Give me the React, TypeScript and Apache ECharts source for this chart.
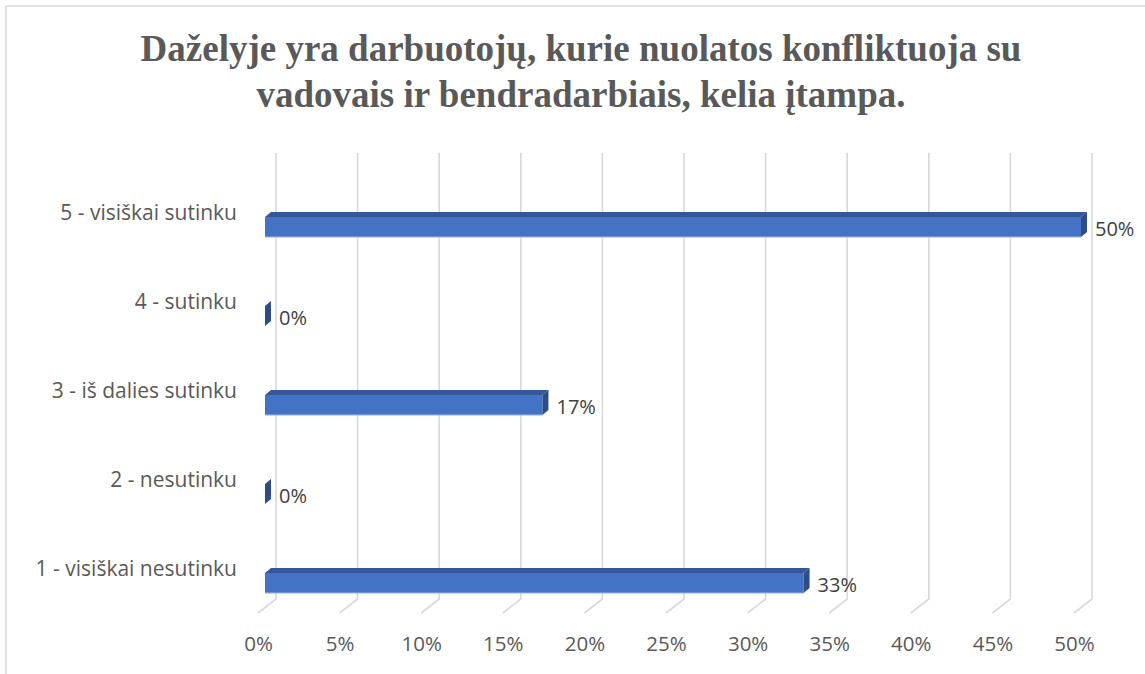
import React, { useEffect, useRef } from 'react';
import * as echarts from 'echarts';

const titleLines = [
  'Daželyje yra darbuotojų, kurie nuolatos konfliktuoja su',
  'vadovais ir bendradarbiais, kelia įtampa.',
];
const categories = [
  '1 - visiškai nesutinku',
  '2 - nesutinku',
  '3 - iš dalies sutinku',
  '4 - sutinku',
  '5 - visiškai sutinku',
];
const values = [33, 0, 17, 0, 50];
const tickValues = [0, 5, 10, 15, 20, 25, 30, 35, 40, 45, 50];
const axisMin = 0;
const axisMax = 50;
const axisStep = 5;

const LABEL_FONT = '"Open Sans", Lato, sans-serif';

export default function App() {
  const ref = useRef<HTMLDivElement>(null);
  useEffect(() => {
    if (!ref.current) return;
    const chart = echarts.init(ref.current, undefined, { renderer: 'svg' });
    const option: any = {
      animation: false,
      backgroundColor: '#ffffff',
      grid: { left: 265, right: 64, top: 182.5, bottom: 46.5, containLabel: false },
      xAxis: {
        type: 'value',
        min: axisMin,
        max: axisMax,
        interval: axisStep,
        axisLine: { show: false },
        axisTick: { show: false },
        splitLine: { show: false },
        axisLabel: {
          formatter: '{value}%',
          color: '#595959',
          fontFamily: LABEL_FONT,
          fontSize: 20.5,
          margin: 5,
          padding: [0, 13, 0, 0],
        },
      },
      yAxis: {
        type: 'category',
        data: categories,
        axisLine: { show: false },
        axisTick: { show: false },
        splitLine: { show: false },
        axisLabel: {
          color: '#595959',
          fontFamily: LABEL_FONT,
          fontSize: 21,
          margin: 28,
          verticalAlign: 'bottom',
          lineHeight: 30,
        },
      },
      graphic: [
        {
          type: 'rect',
          shape: { x: 6, y: 6, width: 1300, height: 800 },
          style: { fill: 'none', stroke: '#d9d9d9', lineWidth: 1.5 },
          silent: true,
        },
        {
          type: 'text',
          x: 581,
          y: 25,
          style: {
            text: titleLines.join('\n'),
            font: 'bold 37px "Liberation Serif", "Times New Roman", serif',
            fill: '#595959',
            textAlign: 'center',
            textVerticalAlign: 'top',
            lineHeight: 46,
          },
        },
      ],
      series: [
        {
          type: 'custom',
          name: 'gridlines',
          z: 1,
          silent: true,
          data: tickValues.map((v) => [v, 0]),
          encode: { x: 0, y: 1 },
          renderItem: (params: any, api: any) => {
            const cs = params.coordSys;
            const px = api.coord([api.value(0), 0])[0];
            const top = cs.y - 29.5;
            const backBottom = cs.y + cs.height - 28.5;
            const frontBottom = cs.y + cs.height - 14.5;
            return {
              type: 'polyline',
              shape: {
                points: [
                  [px + 11, top],
                  [px + 11, backBottom],
                  [px - 7, frontBottom],
                ],
              },
              style: { fill: 'none', stroke: '#d9d9d9', lineWidth: 1.6 },
            };
          },
        },
        {
          type: 'custom',
          name: 'bars',
          z: 2,
          data: values.map((v, i) => [v, i]),
          encode: { x: 0, y: 1 },
          renderItem: (params: any, api: any) => {
            const v = api.value(0);
            const i = api.value(1);
            const x0 = api.coord([0, i])[0];
            const p = api.coord([v, i]);
            const x1 = p[0];
            const yc = p[1];
            const h = 20;
            const top = yc - h / 2;
            const bottom = yc + h / 2;
            const dx = 6;
            const dy = -5;
            return {
              type: 'group',
              children: [
                {
                  type: 'polygon',
                  shape: {
                    points: [
                      [x0, top],
                      [x1, top],
                      [x1 + dx, top + dy],
                      [x0 + dx, top + dy],
                    ],
                  },
                  style: { fill: '#34589A' },
                },
                {
                  type: 'rect',
                  shape: { x: x0, y: top, width: Math.max(0, x1 - x0), height: h },
                  style: { fill: '#4472C4' },
                },
                {
                  type: 'line',
                  shape: { x1: x0, y1: bottom, x2: x1, y2: bottom },
                  style: { stroke: '#9DB4E0', lineWidth: 1 },
                },
                {
                  type: 'polygon',
                  shape: {
                    points: [
                      [x1, top],
                      [x1 + dx, top + dy],
                      [x1 + dx, bottom + dy],
                      [x1, bottom],
                    ],
                  },
                  style: { fill: '#2C4C8A' },
                },
                {
                  type: 'text',
                  x: x1 + 14,
                  y: yc + 1,
                  style: {
                    text: v + '%',
                    font: '20px ' + LABEL_FONT,
                    fill: '#404040',
                    textAlign: 'left',
                    textVerticalAlign: 'middle',
                  },
                },
              ],
            };
          },
        },
      ],
    };
    chart.setOption(option);
    return () => chart.dispose();
  }, []);
  return (
    <div
      ref={ref}
      style={{ position: 'absolute', left: 0, top: 0, width: 1145, height: 674 }}
    />
  );
}
